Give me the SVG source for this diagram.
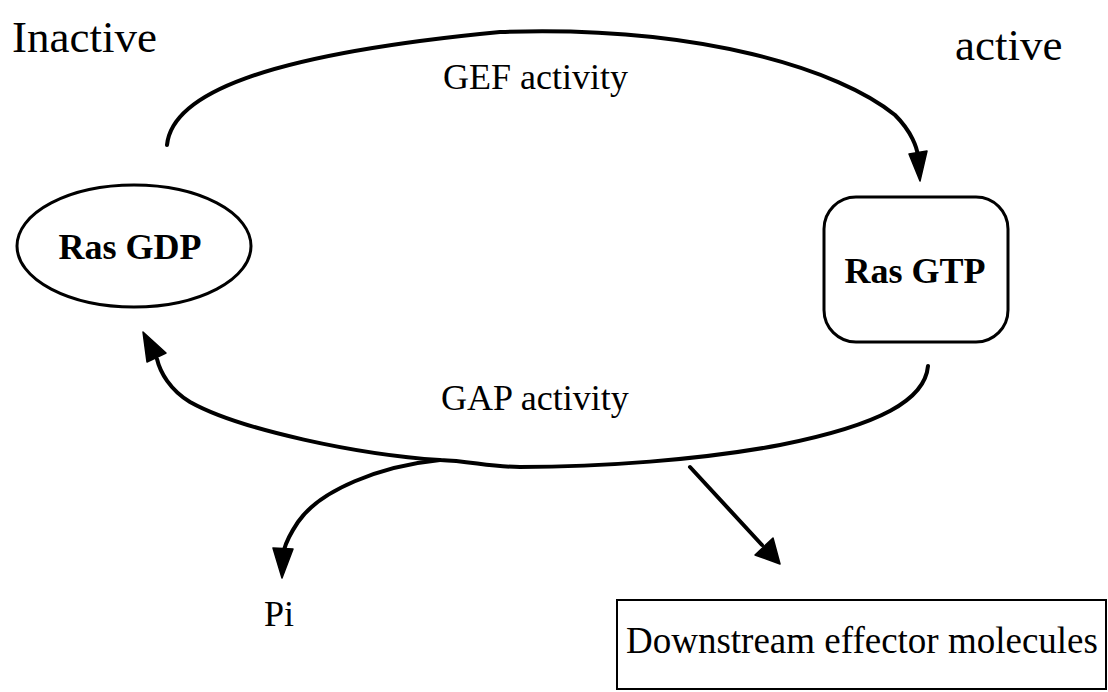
<svg xmlns="http://www.w3.org/2000/svg" width="1108" height="692" viewBox="0 0 1108 692">
<style>
.t{font-family:"Liberation Serif","Times New Roman",serif;fill:#000}
.big{font-size:45px}
.lab{font-size:36px}
.node{font-size:36px;font-weight:bold}
.shape{fill:none;stroke:#000;stroke-width:3}
.wire{fill:none;stroke:#000;stroke-width:4;stroke-linecap:round}
.head{fill:#000;stroke:#000;stroke-width:1.5;stroke-linejoin:round}
</style>
<rect width="1108" height="692" fill="#fff"/>
<text class="t big" x="12" y="52">Inactive</text>
<text class="t big" x="955" y="60">active</text>
<g id="connectors">
<path class="wire" d="M167,145 C172,95 260,55 500,32 C700,25 840,70 895,115 C912,132 917,148 918,156"/>
<polygon class="head" points="920,181 909,154 927,151"/>
<text class="t lab" x="443" y="89">GEF activity</text>
<path class="wire" d="M928,366 C925,400 880,425 780,445 C700,460 600,467 520,467 C490,467 470,461 440,460 C360,455 240,430 190,402 C170,390 160,372 157,359"/>
<polygon class="head" points="143,332 147,362 166,353"/>
<text class="t lab" x="441" y="410">GAP activity</text>
<path class="wire" d="M440,460 C380,466 320,490 298,522 C288,537 285,546 284,550"/>
<polygon class="head" points="282,578 273,548 293,549"/>
<path class="wire" d="M690,467 L762,545"/>
<polygon class="head" points="780,564 755,555 773,538"/>
</g>
<g id="ras-gdp">
<ellipse class="shape" cx="134" cy="246" rx="117" ry="61"/>
<text class="t node" x="130" y="259" text-anchor="middle">Ras GDP</text>
</g>
<g id="ras-gtp">
<rect class="shape" x="824" y="197" width="184" height="145" rx="32"/>
<text class="t node" x="915" y="283" text-anchor="middle">Ras GTP</text>
</g>
<g id="pi">
<text class="t lab" x="264" y="626">Pi</text>
</g>
<g id="downstream">
<rect x="617" y="600" width="489" height="89" fill="none" stroke="#000" stroke-width="2"/>
<text class="t" font-size="37" x="626" y="653">Downstream effector molecules</text>
</g>
</svg>
